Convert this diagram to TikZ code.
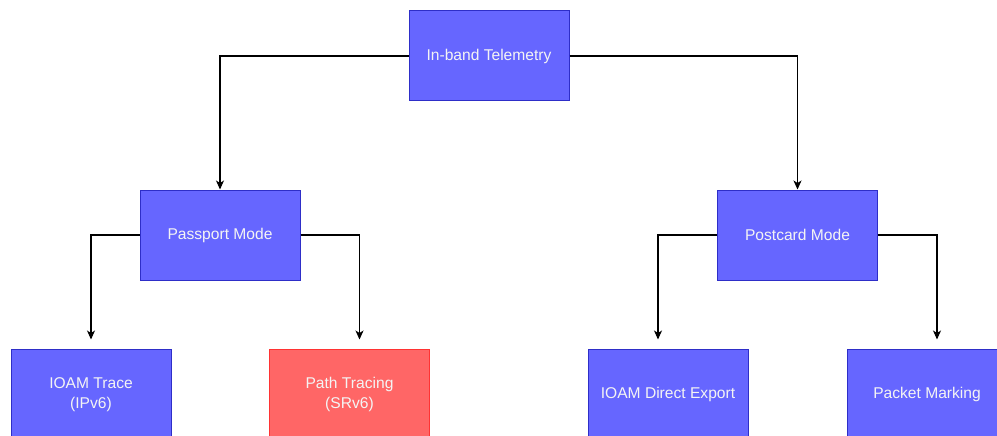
\documentclass[tikz,border=0pt]{standalone}
\usepackage{fontspec}
\setmainfont{Liberation Sans}
\usetikzlibrary{arrows.meta}
\definecolor{boxblue}{HTML}{6666FF}
\definecolor{edgeblue}{HTML}{2E2EC8}
\definecolor{boxred}{HTML}{FF6666}
\definecolor{edgered}{HTML}{FF3333}
\definecolor{labeltext}{HTML}{F4F4F4}
\tikzset{
  blockbox/.style={draw=edgeblue, fill=boxblue, line width=1pt,
    minimum width=160pt, minimum height=90pt, inner sep=0pt,
    text=labeltext, align=center,
    font=\fontsize{15.6}{19.5}\selectfont},
  redbox/.style={blockbox, draw=edgered, fill=boxred},
  link/.style={line width=1.1pt, black,
    -{Stealth[length=9pt,width=8pt,inset=2.5pt]}}
}
\begin{document}
\begin{tikzpicture}[x=1pt,y=-1pt]
  \useasboundingbox (0,0) rectangle (997,436);
  \clip (0,0) rectangle (997,436);
  % boxes
  \node[blockbox] (top)  at (489,56)    {In-band Telemetry};
  \node[blockbox] (pass) at (220,235)   {Passport Mode};
  \node[blockbox] (post) at (797.5,235) {Postcard Mode};
  \node[blockbox] (trace)  at (91,394.5)    {IOAM Trace\\(IPv6)};
  \node[redbox]   (path)   at (349.5,394.5) {Path Tracing\\(SRv6)};
  \node[blockbox] (direct) at (668,394.5)   {IOAM Direct Export};
  \node[blockbox] (mark)   at (927,394.5)   {Packet Marking};
  % arrow ends above the leaf boxes
  \coordinate (eTrace)  at (91,339.5);
  \coordinate (ePath)   at (359.5,339.5);
  \coordinate (eDirect) at (658,339.5);
  \coordinate (eMark)   at (937,339.5);
  % connectors
  \draw[link] (top.west) -| (pass.north);
  \draw[link] (top.east) -| (post.north);
  \draw[link] (pass.west) -| (eTrace);
  \draw[link] (pass.east) -| (ePath);
  \draw[link] (post.west) -| (eDirect);
  \draw[link] (post.east) -| (eMark);
\end{tikzpicture}
\end{document}
